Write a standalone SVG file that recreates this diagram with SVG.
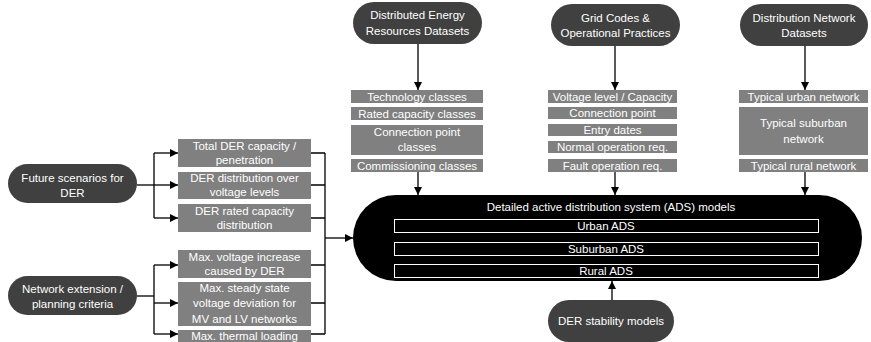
<svg xmlns="http://www.w3.org/2000/svg" width="871" height="342" viewBox="0 0 871 342">
<style>
text{font-family:"Liberation Sans","Open Sans",sans-serif;font-size:11.5px;fill:#fff;text-anchor:middle}
.pill{fill:#404040}
.box{fill:#808080}
.inner{fill:none;stroke:#fff;stroke-width:1}
.ln{fill:none;stroke:#000;stroke-width:1.3}
</style>
<defs>
<marker id="ah" viewBox="0 0 10 10" refX="10" refY="5" markerWidth="8" markerHeight="8" markerUnits="userSpaceOnUse" orient="auto"><path d="M0,0L10,5L0,10z" fill="#000"/></marker>
</defs>
<rect width="871" height="342" fill="#fff"/>
<g id="connectors">
<path class="ln" d="M137,185H154"/>
<path class="ln" d="M154,153V218"/>
<path class="ln" d="M154,153H178" marker-end="url(#ah)"/>
<path class="ln" d="M154,185H178" marker-end="url(#ah)"/>
<path class="ln" d="M154,218H178" marker-end="url(#ah)"/>
<path class="ln" d="M137,296H154"/>
<path class="ln" d="M154,265V334"/>
<path class="ln" d="M154,265H178" marker-end="url(#ah)"/>
<path class="ln" d="M154,303H178" marker-end="url(#ah)"/>
<path class="ln" d="M154,334H178" marker-end="url(#ah)"/>
<path class="ln" d="M311,153H325M311,185H325M311,218H325M311,265H325M311,303H325M311,334H325M325,153V334"/>
<path class="ln" d="M325,238H353" marker-end="url(#ah)"/>
<path class="ln" d="M418,44V90" marker-end="url(#ah)"/>
<path class="ln" d="M418,172V195" marker-end="url(#ah)"/>
<path class="ln" d="M615,46V90" marker-end="url(#ah)"/>
<path class="ln" d="M615,172V195" marker-end="url(#ah)"/>
<path class="ln" d="M805,46V90" marker-end="url(#ah)"/>
<path class="ln" d="M805,172V195" marker-end="url(#ah)"/>
<path class="ln" d="M612,300V281" marker-end="url(#ah)"/>
</g>
<g id="future">
<rect class="pill" x="8" y="164" width="129" height="39" rx="19.5"/>
<text x="72.5" y="182">Future scenarios for</text>
<text x="72.5" y="197">DER</text>
</g>
<g id="network">
<rect class="pill" x="8" y="276" width="129" height="39" rx="19.5"/>
<text x="72.5" y="293">Network extension /</text>
<text x="72.5" y="308">planning criteria</text>
</g>
<g id="b-total"><rect class="box" x="178" y="139" width="133" height="28"/><text x="244.5" y="150">Total DER capacity /</text><text x="244.5" y="164">penetration</text></g>
<g id="b-dist"><rect class="box" x="178" y="172" width="133" height="27"/><text x="244.5" y="182">DER distribution over</text><text x="244.5" y="196">voltage levels</text></g>
<g id="b-rated"><rect class="box" x="178" y="204" width="133" height="28"/><text x="244.5" y="215">DER rated capacity</text><text x="244.5" y="229">distribution</text></g>
<g id="b-vinc"><rect class="box" x="178" y="250" width="133" height="28"/><text x="244.5" y="261">Max. voltage increase</text><text x="244.5" y="275">caused by DER</text></g>
<g id="b-vdev"><rect class="box" x="178" y="282" width="133" height="44"/><text x="244.5" y="292">Max. steady state</text><text x="244.5" y="307">voltage deviation for</text><text x="244.5" y="323">MV and LV networks</text></g>
<g id="b-therm"><rect class="box" x="178" y="330" width="133" height="14"/><text x="244.5" y="340">Max. thermal loading</text></g>
<g id="der-data">
<rect class="pill" x="353" y="2" width="129" height="42" rx="21"/>
<text x="417.5" y="19">Distributed Energy</text>
<text x="417.5" y="35">Resources Datasets</text>
</g>
<g id="b-tech"><rect class="box" x="351" y="90" width="132" height="13"/><text x="417" y="100.5">Technology classes</text></g>
<g id="b-ratedcls"><rect class="box" x="351" y="107" width="132" height="13"/><text x="417" y="117.5">Rated capacity classes</text></g>
<g id="b-conncls"><rect class="box" x="351" y="125" width="132" height="30"/><text x="417" y="136">Connection point</text><text x="417" y="151">classes</text></g>
<g id="b-comm"><rect class="box" x="351" y="159" width="132" height="13"/><text x="417" y="169.5">Commissioning classes</text></g>
<g id="grid-codes">
<rect class="pill" x="551" y="4" width="129" height="42" rx="21"/>
<text x="615.5" y="22">Grid Codes &amp;</text>
<text x="615.5" y="37">Operational Practices</text>
</g>
<g id="b-volt"><rect class="box" x="548" y="90" width="129" height="13"/><text x="612.5" y="100.5">Voltage level / Capacity</text></g>
<g id="b-conn"><rect class="box" x="548" y="107" width="129" height="12"/><text x="612.5" y="117">Connection point</text></g>
<g id="b-entry"><rect class="box" x="548" y="124" width="129" height="12"/><text x="612.5" y="134">Entry dates</text></g>
<g id="b-normal"><rect class="box" x="548" y="141" width="129" height="12"/><text x="612.5" y="151">Normal operation req.</text></g>
<g id="b-fault"><rect class="box" x="548" y="159" width="129" height="13"/><text x="612.5" y="169.5">Fault operation req.</text></g>
<g id="dist-net">
<rect class="pill" x="740" y="4" width="128" height="42" rx="21"/>
<text x="804" y="22">Distribution Network</text>
<text x="804" y="37">Datasets</text>
</g>
<g id="b-urban"><rect class="box" x="739" y="90" width="129" height="13"/><text x="803.5" y="100.5">Typical urban network</text></g>
<g id="b-suburban"><rect class="box" x="739" y="107" width="129" height="48"/><text x="803.5" y="127">Typical suburban</text><text x="803.5" y="143">network</text></g>
<g id="b-rural"><rect class="box" x="739" y="159" width="129" height="13"/><text x="803.5" y="169.5">Typical rural network</text></g>
<g id="ads">
<rect x="353" y="195" width="509" height="86" rx="43" fill="#000"/>
<text x="611" y="211">Detailed active distribution system (ADS) models</text>
<rect class="inner" x="394.5" y="219.5" width="424" height="13"/>
<text x="606" y="230">Urban ADS</text>
<rect class="inner" x="394.5" y="242.5" width="424" height="13"/>
<text x="606" y="253">Suburban ADS</text>
<rect class="inner" x="394.5" y="264.5" width="424" height="13"/>
<text x="606" y="275">Rural ADS</text>
</g>
<g id="der-stab">
<rect class="pill" x="548" y="300" width="126" height="42" rx="21"/>
<text x="611" y="325">DER stability models</text>
</g>
</svg>
